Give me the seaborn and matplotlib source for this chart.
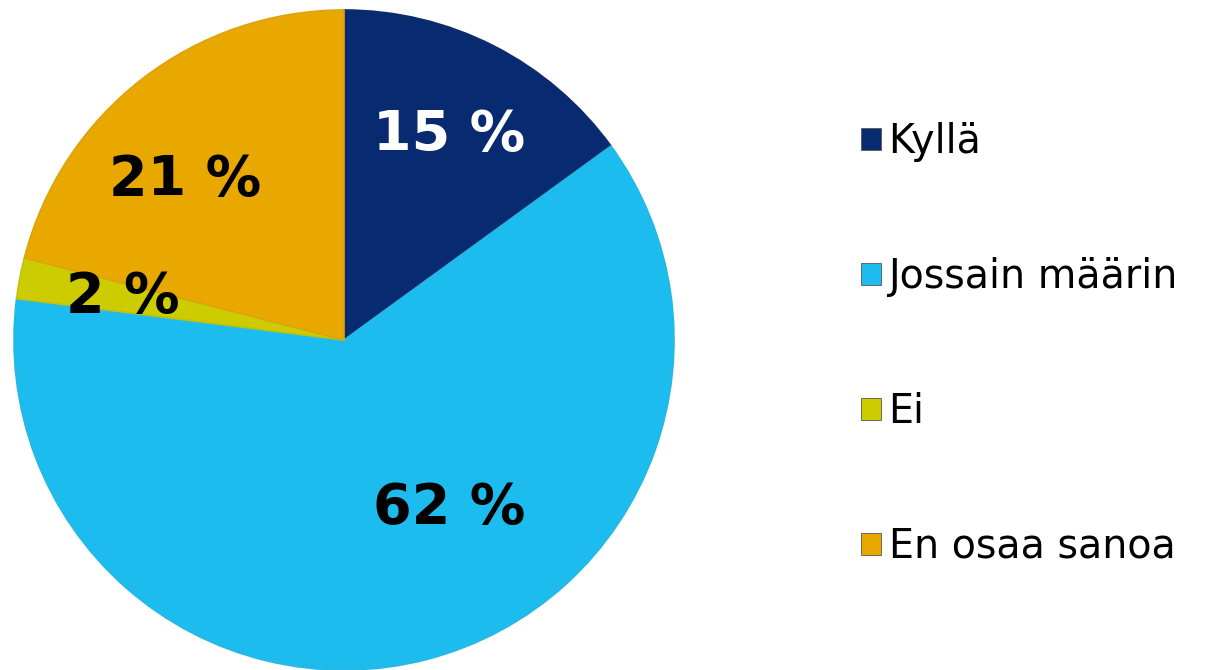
import matplotlib
matplotlib.use("Agg")
import matplotlib.pyplot as plt
import seaborn as sns
from matplotlib.patches import Patch

sns.set_theme(style="white")
plt.rcParams['font.family'] = ['DejaVu Sans']

categories = ["Kyllä", "Jossain määrin", "Ei", "En osaa sanoa"]
values = [15, 62, 2, 21]
labels = ["15 %", "62 %", "2 %", "21 %"]
colors = ["#082a70", "#1cbdee", "#cccc00", "#e8a800"]
label_colors = ["white", "black", "black", "black"]
# label anchor positions (fraction of radius)
label_pos = [(0.32, 0.62), (0.32, -0.51), (-0.67, 0.13), (-0.48, 0.485)]

fig = plt.figure(figsize=(12.07, 6.70), dpi=100)
ax = fig.add_axes([14/1207, 0.0, 660/1207, 660/670])
ax.set_aspect("equal")

wedges, _ = ax.pie(values, colors=colors, startangle=90, counterclock=False,
                   radius=1.0, wedgeprops=dict(linewidth=1.2))
for w, c in zip(wedges, colors):
    w.set_edgecolor(sns.desaturate(c, 0.9))
for (x, y), t, tc in zip(label_pos, labels, label_colors):
    ax.text(x, y, t, ha="center", va="center", fontsize=40, fontweight="bold", color=tc)
ax.set_xlim(-1.0, 1.0)
ax.set_ylim(-1.0, 1.0)
ax.axis("off")

handles = [Patch(facecolor=c, edgecolor="#555555", linewidth=0.6) for c in colors]
fig.legend(handles, categories, loc="center left", bbox_to_anchor=(845/1207, 0.486),
           frameon=False, fontsize=28.5, labelcolor="black", handlelength=0.5, handleheight=0.5,
           handletextpad=0.2, labelspacing=2.4, borderaxespad=0)

fig.savefig("out.png", dpi=100)
